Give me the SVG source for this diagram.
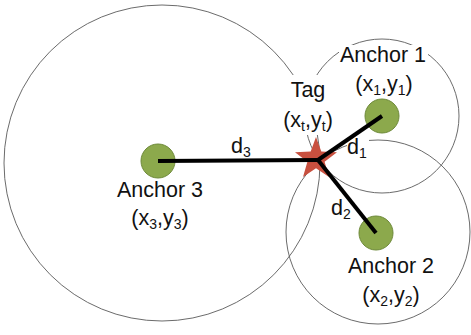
<svg xmlns="http://www.w3.org/2000/svg" width="471" height="335" viewBox="0 0 471 335">
<style>
.range{fill:none;stroke:#5a5a5a;stroke-width:0.9}
.anchor{fill:#8ca94c;stroke:#6e8a3a;stroke-width:1}
.link{stroke:#000;stroke-width:4;stroke-linecap:butt}
.lbl{font-family:"Liberation Sans",Arial,sans-serif;font-size:21.5px;fill:#111;text-anchor:middle}
.sub{font-size:14px}
.mask{fill:#fff}
</style>
<rect width="471" height="335" fill="#fff"/>
<g id="ranges">
<circle class="range" cx="162" cy="163" r="158"/>
<circle class="range" cx="382" cy="116" r="77"/>
<circle class="range" cx="378" cy="232" r="92"/>
</g>
<g id="label-masks">
<rect class="mask" x="291" y="75" width="40" height="60"/>
<rect class="mask" x="339" y="45" width="89" height="55"/>
<rect class="mask" x="347" y="139" width="22" height="19"/>
</g>
<g id="anchor3"><circle class="anchor" cx="158" cy="161" r="17"/></g>
<g id="anchor1"><circle class="anchor" cx="382" cy="116" r="17"/></g>
<g id="anchor2"><circle class="anchor" cx="376" cy="233" r="17"/></g>
<g id="tag"><polygon fill="#c8503f" points="316,137 321.3,151.6 337,152.2 324.6,161.8 329,177 316,168.2 303,177 307.4,161.8 295,152.2 310.7,151.6"/></g>
<g id="connectors">
<line class="link" x1="158" y1="161" x2="318" y2="160"/>
<line class="link" x1="318" y1="160" x2="382" y2="116"/>
<line class="link" x1="318" y1="160" x2="376" y2="233"/>
</g>
<g id="labels">
<text class="lbl" x="308" y="97">Tag</text>
<text class="lbl" x="308" y="127">(x<tspan class="sub" dy="4">t</tspan><tspan dy="-4">,y</tspan><tspan class="sub" dy="4">t</tspan><tspan dy="-4">)</tspan></text>
<text class="lbl" x="383" y="62">Anchor 1</text>
<text class="lbl" x="384" y="91">(x<tspan class="sub" dy="4">1</tspan><tspan dy="-4">,y</tspan><tspan class="sub" dy="4">1</tspan><tspan dy="-4">)</tspan></text>
<text class="lbl" x="391" y="273">Anchor 2</text>
<text class="lbl" x="391" y="302">(x<tspan class="sub" dy="4">2</tspan><tspan dy="-4">,y</tspan><tspan class="sub" dy="4">2</tspan><tspan dy="-4">)</tspan></text>
<text class="lbl" x="160" y="197">Anchor 3</text>
<text class="lbl" x="160" y="225">(x<tspan class="sub" dy="4">3</tspan><tspan dy="-4">,y</tspan><tspan class="sub" dy="4">3</tspan><tspan dy="-4">)</tspan></text>
<text class="lbl" x="357" y="154">d<tspan class="sub" dy="4">1</tspan></text>
<text class="lbl" x="341" y="215">d<tspan class="sub" dy="4">2</tspan></text>
<text class="lbl" x="241" y="153">d<tspan class="sub" dy="4">3</tspan></text>
</g>
</svg>
